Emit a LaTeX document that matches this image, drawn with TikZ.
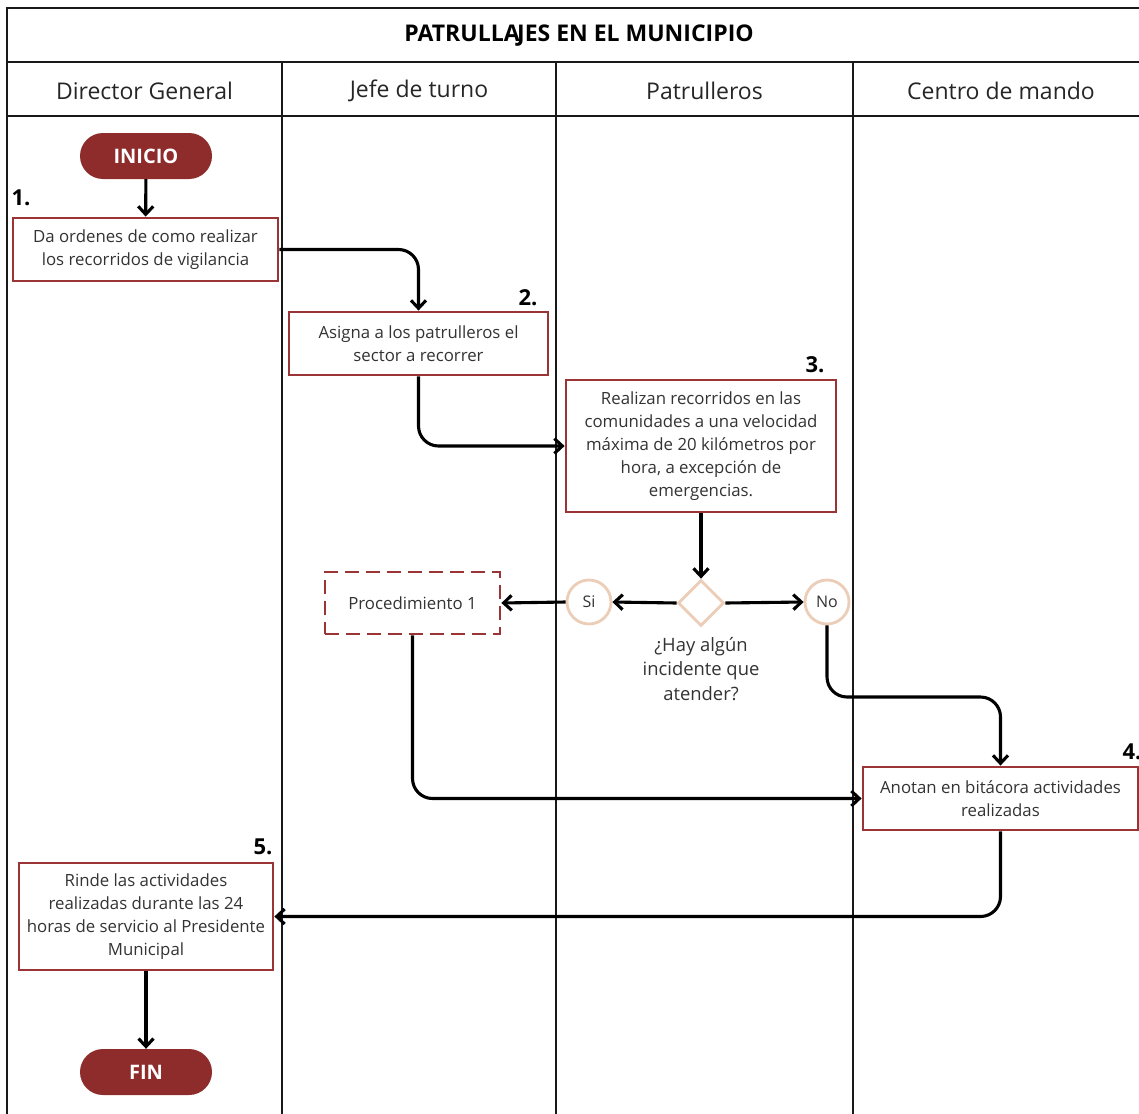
\documentclass[tikz,border=0pt]{standalone}
\usepackage{fontspec}
\setmainfont{Open Sans}
\usetikzlibrary{arrows.meta,shapes.geometric}
\definecolor{boxred}{HTML}{9B3535}
\definecolor{pillred}{HTML}{8E2B2B}
\definecolor{beige}{HTML}{EBCDB8}
\definecolor{txt}{HTML}{333333}
\tikzset{
  grid/.style={line width=2.6pt, black!90},
  pill/.style={rounded corners=23pt, fill=pillred, text=white, font=\fontsize{20}{22}\selectfont\bfseries,
    minimum width=132pt, minimum height=46pt, inner sep=0pt},
  stepbox/.style={draw=boxred, line width=2.8pt, fill=white, text=txt, align=center,
    font=\fontsize{16.8}{23}\selectfont, inner sep=0pt},
  dashbox/.style={stepbox, dash pattern=on 14pt off 7pt},
  decision/.style={diamond, draw=beige, line width=2.8pt, fill=white, minimum width=46pt, minimum height=46pt, inner sep=0pt},
  answer/.style={circle, draw=beige, line width=2.8pt, fill=white, minimum size=44pt, inner sep=0pt,
    text=txt, font=\fontsize{16}{18}\selectfont},
  num/.style={font=\fontsize{22}{24}\selectfont\bfseries, inner sep=0pt},
  head/.style={font=\fontsize{23}{26}\selectfont, text=black!85},
  flow/.style={line width=3.1pt, black, rounded corners=20pt, -{Straight Barb[length=8pt,width=15pt,line width=3.1pt]}},
}
\begin{document}
\begin{tikzpicture}[x=1pt,y=-1pt]
\useasboundingbox (0,0) rectangle (1139,1113);
\fill[white] (0,0) rectangle (1139,1113);
\begin{scope}
\clip (0,0) rectangle (1139,1113);
% swimlane frame
\draw[grid] (1160,8) -- (7,8) -- (7,1130);
\draw[grid] (7,62) -- (1160,62);
\draw[grid] (7,116) -- (1160,116);
\draw[grid] (282,62) -- (282,1130);
\draw[grid] (556,62) -- (556,1130);
\draw[grid] (853,62) -- (853,1130);

\node[font=\fontsize{23}{26}\selectfont\bfseries] (title) at (579,36) {PATRULLA\kern-2.5pt JES EN EL MUNICIPIO};
\node[head] (h1) at (144.5,91) {Director General};
\node[head] (h2) at (419,91) {Jefe de turno};
\node[head] (h3) at (704.5,91) {Patrulleros};
\node[head] (h4) at (1001,91) {Centro de mando};

% steps
\node[pill] (inicio) at (146,156) {INICIO};
\node[stepbox, minimum width=265pt, minimum height=63pt] (b1) at (145.5,249.5)
  {Da ordenes de como realizar\\los recorridos de vigilancia};
\node[stepbox, minimum width=259pt, minimum height=63pt] (b2) at (418.5,343.5)
  {Asigna a los patrulleros el\\sector a recorrer};
\node[stepbox, minimum width=270pt, minimum height=132pt] (b3) at (701,446)
  {Realizan recorridos en las\\comunidades a una velocidad\\máxima de 20 kilómetros por\\hora, a excepción de\\emergencias.};
\node[decision] (dia) at (701,603) {};
\node[answer] (si) at (589,602) {Si};
\node[answer] (no) at (827,602) {No};
\node[font=\fontsize{18.4}{24.5}\selectfont, text=txt, align=center] (q) at (701,669)
  {¿Hay algún\\incidente que\\atender?};
\node[dashbox, minimum width=175pt, minimum height=62pt] (proc) at (412.5,603) {Procedimiento 1};
\node[stepbox, minimum width=275pt, minimum height=63pt] (b4) at (1000.5,798.5)
  {Anotan en bitácora actividades\\realizadas};
\node[stepbox, minimum width=254pt, minimum height=107pt] (b5) at (146,916.5)
  {Rinde las actividades\\realizadas durante las 24\\horas de servicio al Presidente\\Municipal};
\node[pill] (fin) at (146,1072) {FIN};

% step numbers
\node[num] (n1) at (21,198) {1.};
\node[num] (n2) at (528,298) {2.};
\node[num] (n3) at (815,365) {3.};
\node[num] (n4) at (1132,752) {4.};
\node[num] (n5) at (263,847) {5.};

% connectors
\coordinate (nobend) at (827,697);
\draw[flow] (inicio) -- (b1);
\draw[flow] (b1.east) -| (b2.north);
\draw[flow] (b2.south) |- (b3.west);
\draw[flow] (b3.south) -- (dia.north);
\draw[flow] (dia.west) -- (si.east);
\draw[flow] (dia.east) -- (no.west);
\draw[flow] (si.west) -- (proc.east);
\draw[flow] (no.south) -- (nobend) -| (b4.north);
\draw[flow] (proc.south) |- (b4.west);
\draw[flow] (b4.south) |- (b5.east);
\draw[flow] (b5) -- (fin);
\end{scope}
\end{tikzpicture}
\end{document}
